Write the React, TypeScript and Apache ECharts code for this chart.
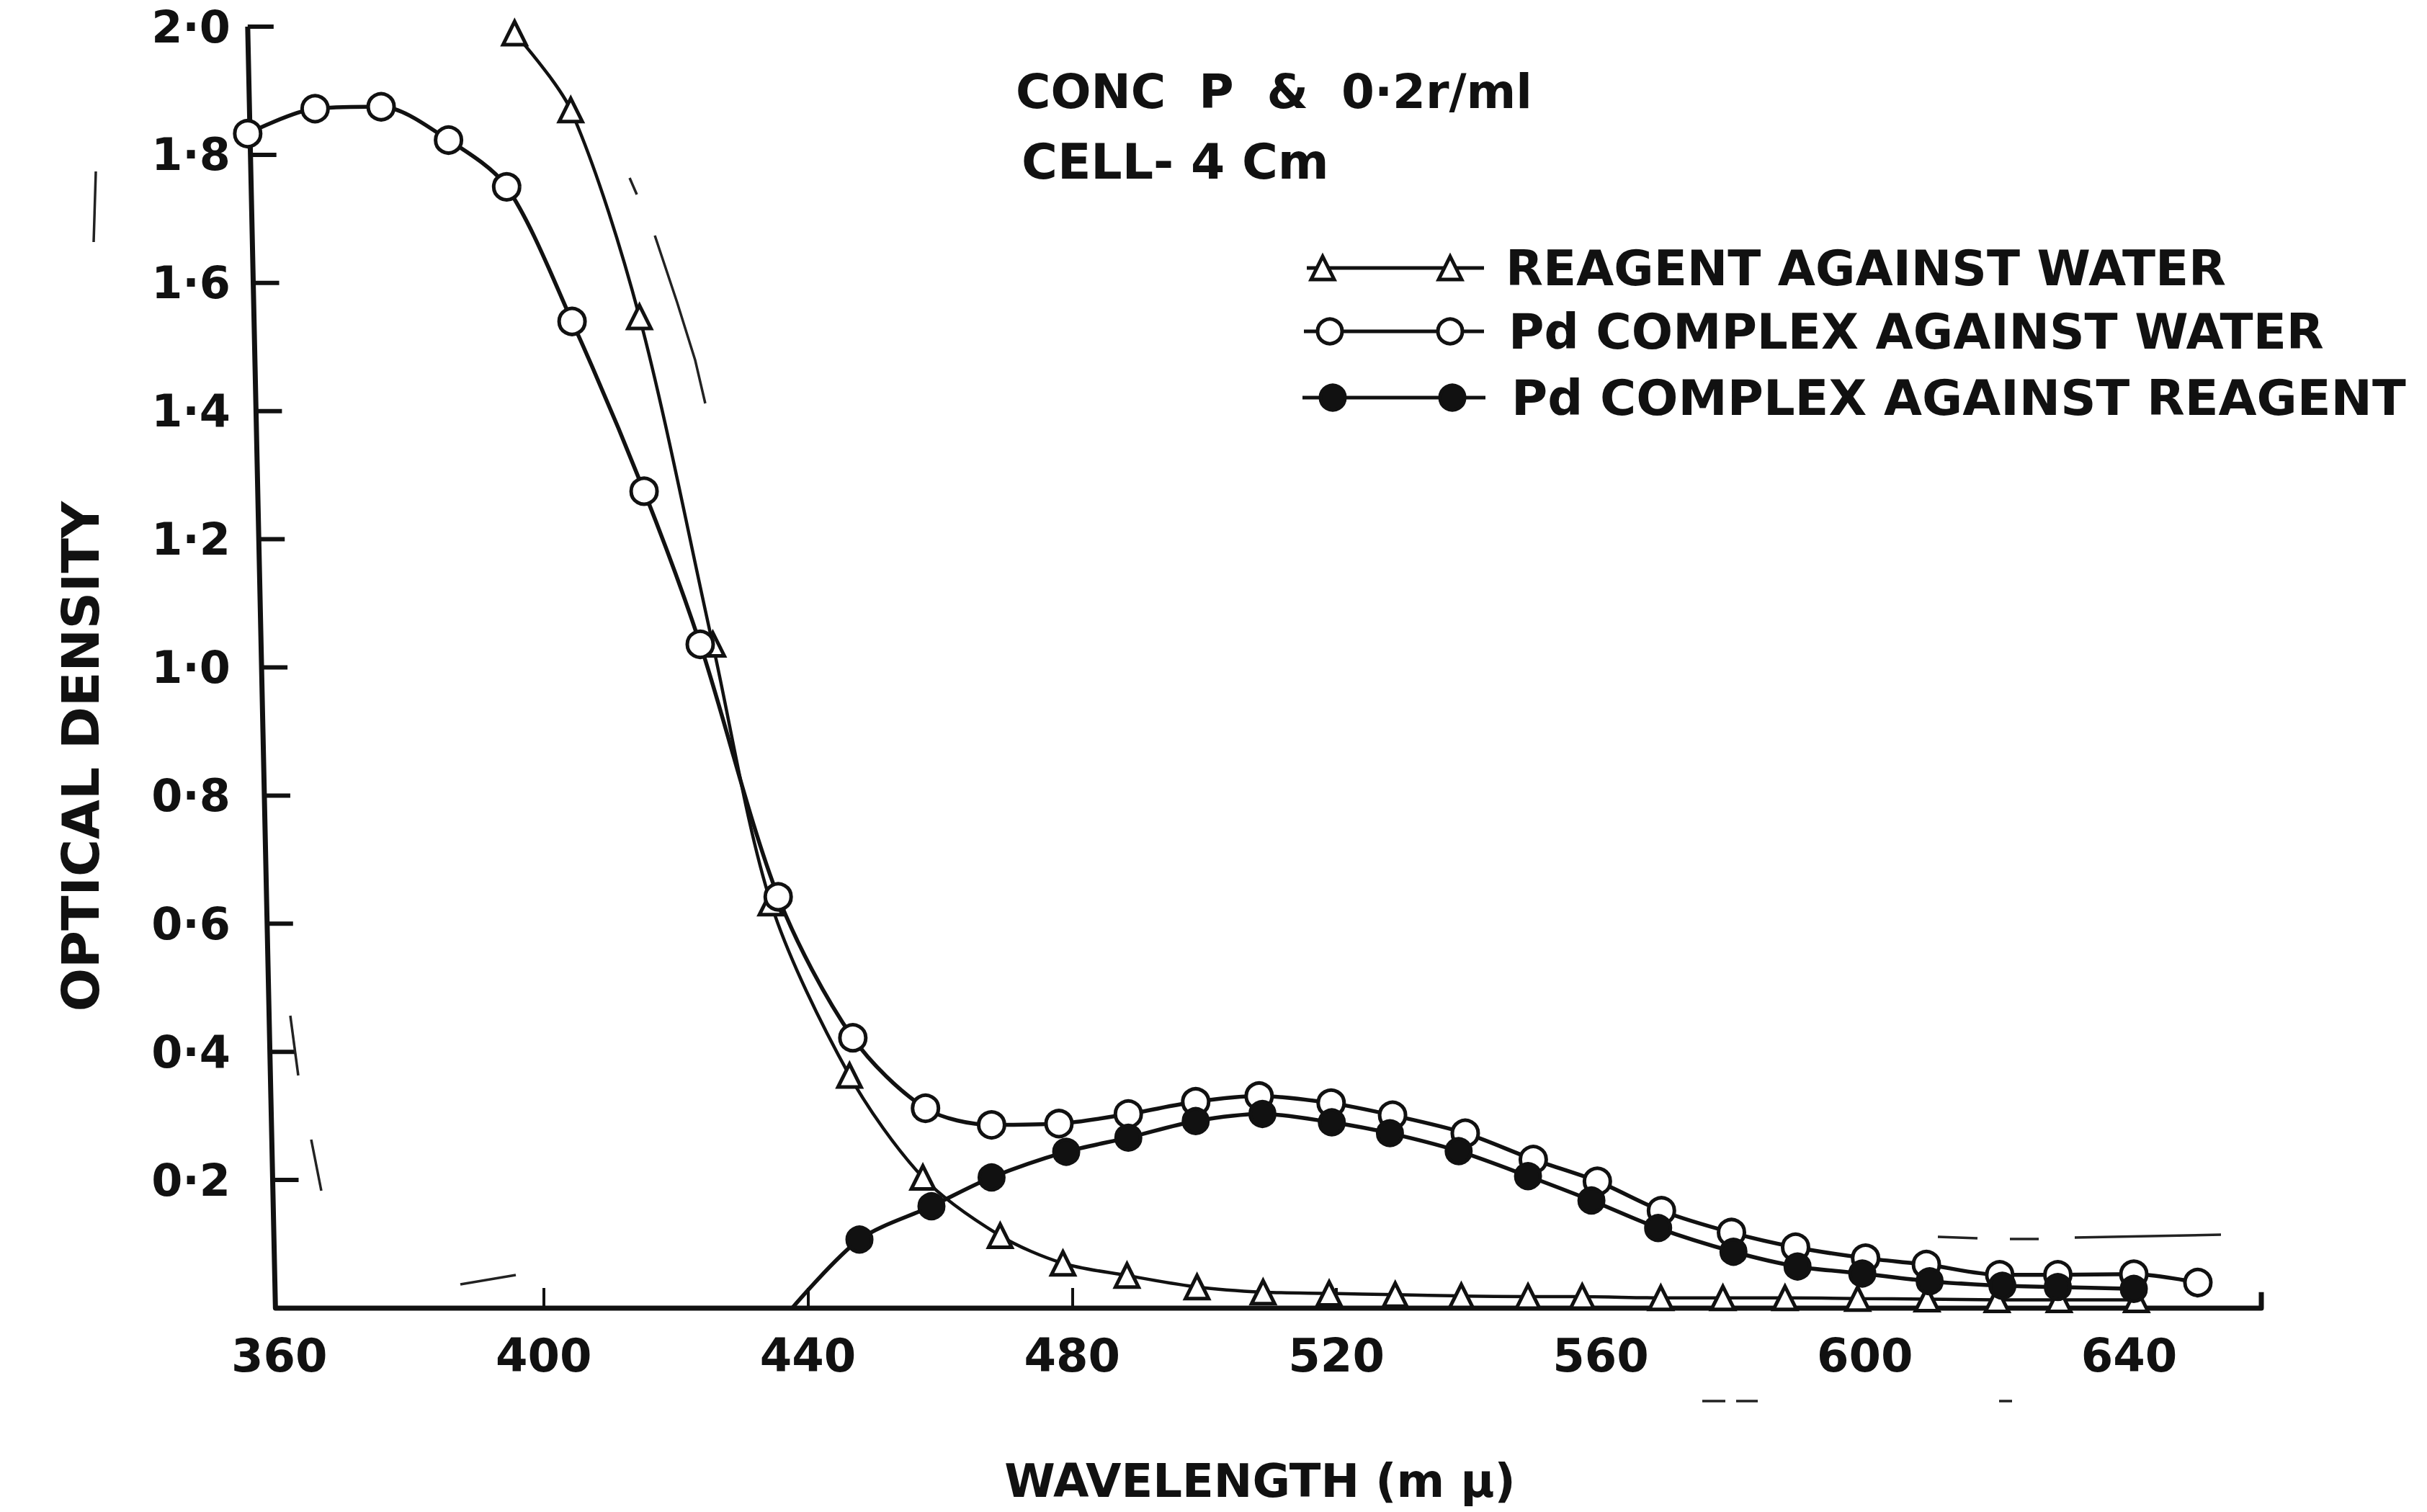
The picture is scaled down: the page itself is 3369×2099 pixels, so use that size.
import React, { useEffect, useRef } from "react";
import * as echarts from "echarts";

// ---------- data ----------
const xLabelValues = [360, 400, 440, 480, 520, 560, 600, 640];
const xTickValues = [400, 440, 480, 520];
const yTickValues = [0.2, 0.4, 0.6, 0.8, 1.0, 1.2, 1.4, 1.6, 1.8, 2.0];

// Reagent against water (open triangles)
const reagentWl = [395.6, 404.1, 414.5, 425.6, 434.4, 446.3, 457.4, 469.1, 478.6, 488.3, 498.9, 508.9, 518.9, 528.9, 538.9, 549.0, 557.2, 569.1, 578.5, 587.9, 598.9, 609.4, 620.0, 629.4, 641.1];
const reagentOD = [1.99, 1.87, 1.547, 1.036, 0.632, 0.363, 0.204, 0.113, 0.07, 0.051, 0.033, 0.025, 0.023, 0.021, 0.019, 0.018, 0.018, 0.016, 0.016, 0.016, 0.015, 0.014, 0.013, 0.013, 0.013];

// Pd complex against water (open circles)
const complexWaterWl = [355.2, 365.4, 375.4, 385.6, 394.4, 404.3, 415.2, 423.7, 435.5, 446.8, 457.8, 467.8, 478.0, 488.5, 498.7, 508.3, 519.2, 528.5, 539.5, 549.8, 559.5, 569.2, 579.8, 589.5, 600.1, 609.3, 620.4, 629.2, 640.7, 650.4];
const complexWaterOD = [1.833, 1.872, 1.875, 1.823, 1.75, 1.54, 1.275, 1.036, 0.642, 0.422, 0.312, 0.286, 0.288, 0.303, 0.322, 0.331, 0.32, 0.301, 0.273, 0.232, 0.198, 0.152, 0.118, 0.095, 0.078, 0.068, 0.052, 0.052, 0.053, 0.04];

// Pd complex against reagent (filled circles); first point is where the curve leaves the axis
const complexReagentWl = [437.6, 447.8, 458.7, 467.8, 479.1, 488.5, 498.7, 508.8, 519.3, 528.1, 538.5, 549.0, 558.6, 568.7, 580.1, 589.8, 599.6, 609.8, 620.8, 629.2, 640.7];
const complexReagentOD = [0, 0.107, 0.159, 0.204, 0.244, 0.266, 0.292, 0.303, 0.29, 0.273, 0.245, 0.206, 0.168, 0.125, 0.088, 0.065, 0.054, 0.042, 0.035, 0.033, 0.03];

const seriesNames = ["REAGENT AGAINST WATER", "Pd COMPLEX AGAINST WATER", "Pd COMPLEX AGAINST REAGENT"];
const noteLines = ["CONC  P  &  0·2r/ml", "CELL- 4 Cm"];
const xTitle = "WAVELENGTH (m μ)";
const yTitle = "OPTICAL DENSITY";

// ---------- layout / style ----------
const X_MIN = 355;
const X_MAX = 660;
const Y_MAX = 2;
const AXIS_TOP_WL = 355.2; // hand-drawn y axis leans slightly
const AXIS_BOTTOM_WL = 359.4;
const INK = "#111";
const FONT = "DejaVu Sans";

const zip = (a: number[], b: number[]) => a.map((x, i) => [x, b[i]]);

export default function App() {
  const ref = useRef<HTMLDivElement>(null);

  useEffect(() => {
    const chart = echarts.init(ref.current!, null, { renderer: "svg" });

    const baseLine = (name: string, data: any[], symbol: string, size: number, fill: string, z: number, lw: number) => ({
      name,
      type: "line",
      data,
      smooth: 0.3,
      symbol,
      symbolSize: size,
      showAllSymbol: true,
      clip: false,
      z,
      lineStyle: { color: INK, width: lw },
      itemStyle: { color: fill, borderColor: INK, borderWidth: 5 },
      emphasis: { disabled: true },
    });

    const filledData: any[] = zip(complexReagentWl, complexReagentOD).map((p, i) =>
      i === 0 ? { value: p, symbol: "none" } : p
    );

    chart.setOption({
      animation: false,
      backgroundColor: "#fff",
      grid: { left: 342, right: 230, top: 37, bottom: 283 },
      xAxis: {
        type: "value",
        min: X_MIN,
        max: X_MAX,
        axisLine: { show: false },
        splitLine: { show: false },
        axisTick: {
          show: true,
          inside: true,
          length: 28,
          customValues: xTickValues,
          lineStyle: { color: INK, width: 4 },
        },
        axisLabel: {
          customValues: xLabelValues,
          margin: 34,
          color: INK,
          fontSize: 64,
          fontFamily: FONT,
          fontWeight: "bold",
        },
      },
      yAxis: {
        type: "value",
        min: 0,
        max: Y_MAX,
        interval: 0.2,
        axisLine: { show: false },
        axisTick: { show: false },
        splitLine: { show: false },
        axisLabel: {
          margin: 22,
          color: INK,
          fontSize: 62,
          fontFamily: FONT,
          fontWeight: "bold",
          formatter: (v: number) => (v === 0 ? "" : v.toFixed(1).replace(".", "·")),
        },
      },
      series: [
        baseLine(seriesNames[0], zip(reagentWl, reagentOD), "triangle", 32, "#fff", 2, 4.5),
        baseLine(seriesNames[1], zip(complexWaterWl, complexWaterOD), "circle", 36, "#fff", 3, 5.5),
        baseLine(seriesNames[2], filledData, "circle", 34, INK, 4, 5.5),
      ],
    });

    const px = (x: number, y: number) => chart.convertToPixel({ gridIndex: 0 }, [x, y]) as number[];
    const slantWl = (v: number) => AXIS_BOTTOM_WL + (AXIS_TOP_WL - AXIS_BOTTOM_WL) * (v / Y_MAX);

    const g: any[] = [];
    // axes frame
    const top = px(AXIS_TOP_WL, Y_MAX);
    const corner = px(AXIS_BOTTOM_WL, 0);
    const end = px(X_MAX, 0);
    const endUp = px(X_MAX, 0.025);
    g.push({
      type: "polyline",
      shape: { points: [top, corner, end, endUp] },
      style: { stroke: INK, lineWidth: 7, fill: null, lineJoin: "round" },
      z: 1,
    });
    yTickValues.forEach((v) => {
      const a = px(slantWl(v), v);
      g.push({
        type: "line",
        shape: { x1: a[0], y1: a[1], x2: a[0] + 36, y2: a[1] },
        style: { stroke: INK, lineWidth: 6 },
        z: 1,
      });
    });

    const txt = (text: string, x: number, y: number, size: number, align = "left", rotation = 0) => ({
      type: "text",
      x,
      y,
      rotation,
      style: {
        text,
        x: 0,
        y: 0,
        font: `bold ${size}px "${FONT}"`,
        fill: INK,
        align,
        verticalAlign: "middle",
        textAlign: align,
        textVerticalAlign: "middle",
      },
      z: 6,
    });

    // legend drawn as in the original (marker at both ends of a short line)
    const legendRows = [
      { y: 372, kind: "triangle", x1: 1814, x2: 2060, m1: 1836, m2: 2013, tx: 2090, fs: 67.5 },
      { y: 460, kind: "open", x1: 1810, x2: 2060, m1: 1846, m2: 2013, tx: 2094, fs: 67.5 },
      { y: 552, kind: "filled", x1: 1808, x2: 2062, m1: 1850, m2: 2016, tx: 2098, fs: 68.5 },
    ];
    legendRows.forEach((r, i) => {
      g.push({ type: "line", shape: { x1: r.x1, y1: r.y, x2: r.x2, y2: r.y }, style: { stroke: INK, lineWidth: 5 }, z: 5 });
      [r.m1, r.m2].forEach((mx) => {
        if (r.kind === "triangle") {
          const s = 32;
          g.push({
            type: "polygon",
            shape: { points: [[mx, r.y - s / 2], [mx + s / 2, r.y + s / 2], [mx - s / 2, r.y + s / 2]] },
            style: { fill: "#fff", stroke: INK, lineWidth: 5 },
            z: 6,
          });
        } else {
          g.push({
            type: "circle",
            shape: { cx: mx, cy: r.y, r: 17 },
            style: { fill: r.kind === "filled" ? INK : "#fff", stroke: INK, lineWidth: 5 },
            z: 6,
          });
        }
      });
      g.push(txt(seriesNames[i], r.tx, r.y, r.fs));
    });

    // notes
    g.push(txt(noteLines[0], 1410, 127, 66));
    g.push(txt(noteLines[1], 1418, 224, 68));

    // axis titles
    g.push(txt(xTitle, 1749, 2056, 64, "center"));
    g.push(txt(yTitle, 112, 1050, 71, "center", Math.PI / 2));

    // scan marks present in the original print
    const marks: number[][][] = [
      [[133, 238], [130, 336]],
      [[403, 1410], [414, 1493]],
      [[432, 1582], [446, 1653]],
      [[639, 1783], [716, 1770]],
      [[874, 247], [884, 270]],
      [[909, 327], [940, 420], [965, 500], [979, 560]],
      [[2690, 1717], [2745, 1719]],
      [[2790, 1720], [2830, 1720]],
      [[2880, 1718], [3083, 1714]],
      [[2363, 1945], [2395, 1945]],
      [[2410, 1945], [2440, 1945]],
      [[2775, 1945], [2793, 1945]],
    ];
    marks.forEach((pts) =>
      g.push({
        type: "polyline",
        shape: { points: pts },
        style: { stroke: "#222", lineWidth: 3.5, fill: null },
        z: 1,
      })
    );

    chart.setOption({ graphic: g });

    return () => chart.dispose();
  }, []);

  return (
    <div
      ref={ref}
      style={{ position: "fixed", left: 0, top: 0, width: "3369px", height: "2099px", background: "#fff" }}
    />
  );
}
